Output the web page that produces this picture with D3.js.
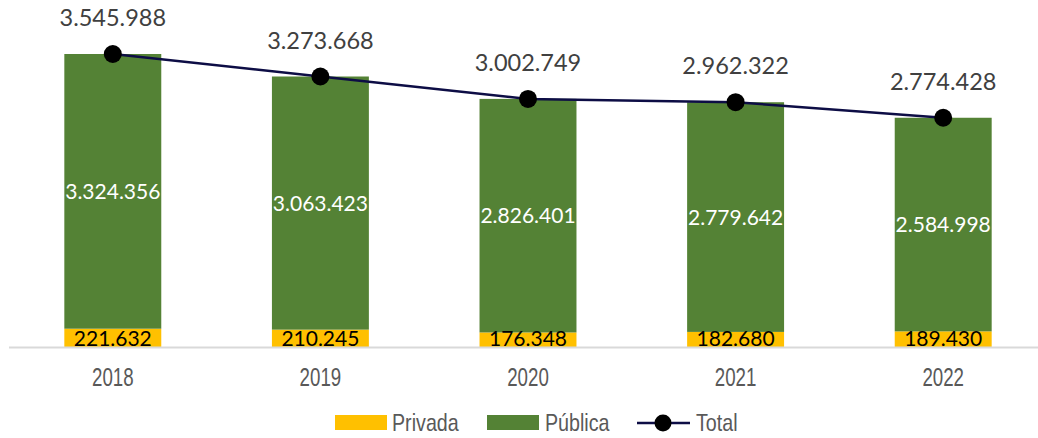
<!DOCTYPE html>
<html><head><meta charset="utf-8">
<script src="https://cdn.jsdelivr.net/npm/d3@7"></script>
<style>body{margin:0;background:#fff}svg{display:block}</style>
</head><body>
<svg id="c" width="1038" height="438"></svg>
<script>
const years = ["2018","2019","2020","2021","2022"];
const privada = [221632,210245,176348,182680,189430];
const publica = [3324356,3063423,2826401,2779642,2584998];
const total = [3545988,3273668,3002749,2962322,2774428];

const svg=d3.select("#c");
const fmt=v=>d3.format(",")(v).replace(/,/g,".");
const x=d3.scaleBand().domain(years).range([9,1047]).paddingInner(0.533).paddingOuter(0.2665);
const y=d3.scaleLinear().domain([0,3545988]).range([347,54]);
const numFont="Lato, 'Open Sans', sans-serif";
const axFont="'Liberation Sans', Arial, sans-serif";
const narrow="scale(0.82,1)";

// bars
const g=svg.append("g");
g.selectAll("rect.priv").data(years).join("rect")
 .attr("x",d=>x(d)).attr("width",x.bandwidth())
 .attr("y",(d,i)=>y(privada[i])).attr("height",(d,i)=>y(0)-y(privada[i]))
 .attr("fill","#FFC000");
g.selectAll("rect.pub").data(years).join("rect")
 .attr("x",d=>x(d)).attr("width",x.bandwidth())
 .attr("y",(d,i)=>y(privada[i]+publica[i])).attr("height",(d,i)=>y(privada[i])-y(privada[i]+publica[i]))
 .attr("fill","#548235");

// axis
const xa=svg.append("g").attr("transform","translate(0,347)").call(d3.axisBottom(x).tickSize(0).tickPadding(21));
xa.select(".domain").attr("stroke","#d9d9d9").attr("stroke-width",2).attr("d","M9,0.5H1038");
xa.selectAll("text").attr("font-family",axFont).attr("font-size",26).attr("fill","#595959").attr("transform","scale(0.72,1)");

// labels
g.selectAll("text.pub").data(years).join("text")
 .attr("x",d=>x(d)+x.bandwidth()/2).attr("y",(d,i)=>(y(privada[i])+y(total[i]))/2)
 .attr("dy","0.36em").attr("text-anchor","middle").attr("font-family",numFont).attr("font-size",21)
 .attr("fill","#fff").text((d,i)=>fmt(publica[i]));
g.selectAll("text.priv").data(years).join("text")
 .attr("x",d=>x(d)+x.bandwidth()/2).attr("y",347)
 .attr("dy","-0.05em").attr("text-anchor","middle").attr("font-family",numFont).attr("font-size",21)
 .attr("fill","#000").text((d,i)=>fmt(privada[i]));

// line
const cx=d=>x(d)+x.bandwidth()/2;
svg.append("path").datum(years)
 .attr("d",d3.line().x(cx).y((d,i)=>y(total[i])))
 .attr("fill","none").attr("stroke","#0D0D45").attr("stroke-width",2.5);
svg.selectAll("circle.t").data(years).join("circle")
 .attr("cx",cx).attr("cy",(d,i)=>y(total[i])).attr("r",9).attr("fill","#000");
svg.selectAll("text.t").data(years).join("text")
 .attr("x",cx).attr("y",(d,i)=>y(total[i])-28)
 .attr("text-anchor","middle").attr("font-family",numFont).attr("font-size",23.5)
 .attr("fill","#404040").text((d,i)=>fmt(total[i]));

// legend
const lg=svg.append("g").attr("font-family",axFont).attr("font-size",24).attr("fill","#595959");
const ltext=(xp,t)=>lg.append("g").attr("transform",`translate(${xp},431) ${narrow}`).append("text").text(t);
lg.append("rect").attr("x",335).attr("y",415).attr("width",52).attr("height",15).attr("fill","#FFC000");
ltext(392,"Privada");
lg.append("rect").attr("x",487).attr("y",415).attr("width",52).attr("height",15).attr("fill","#548235");
ltext(545,"Pública");
lg.append("line").attr("x1",637).attr("x2",690).attr("y1",423).attr("y2",423).attr("stroke","#0D0D45").attr("stroke-width",2.5);
lg.append("circle").attr("cx",663).attr("cy",423).attr("r",8.5).attr("fill","#000");
ltext(696,"Total");
</script>
</body></html>
